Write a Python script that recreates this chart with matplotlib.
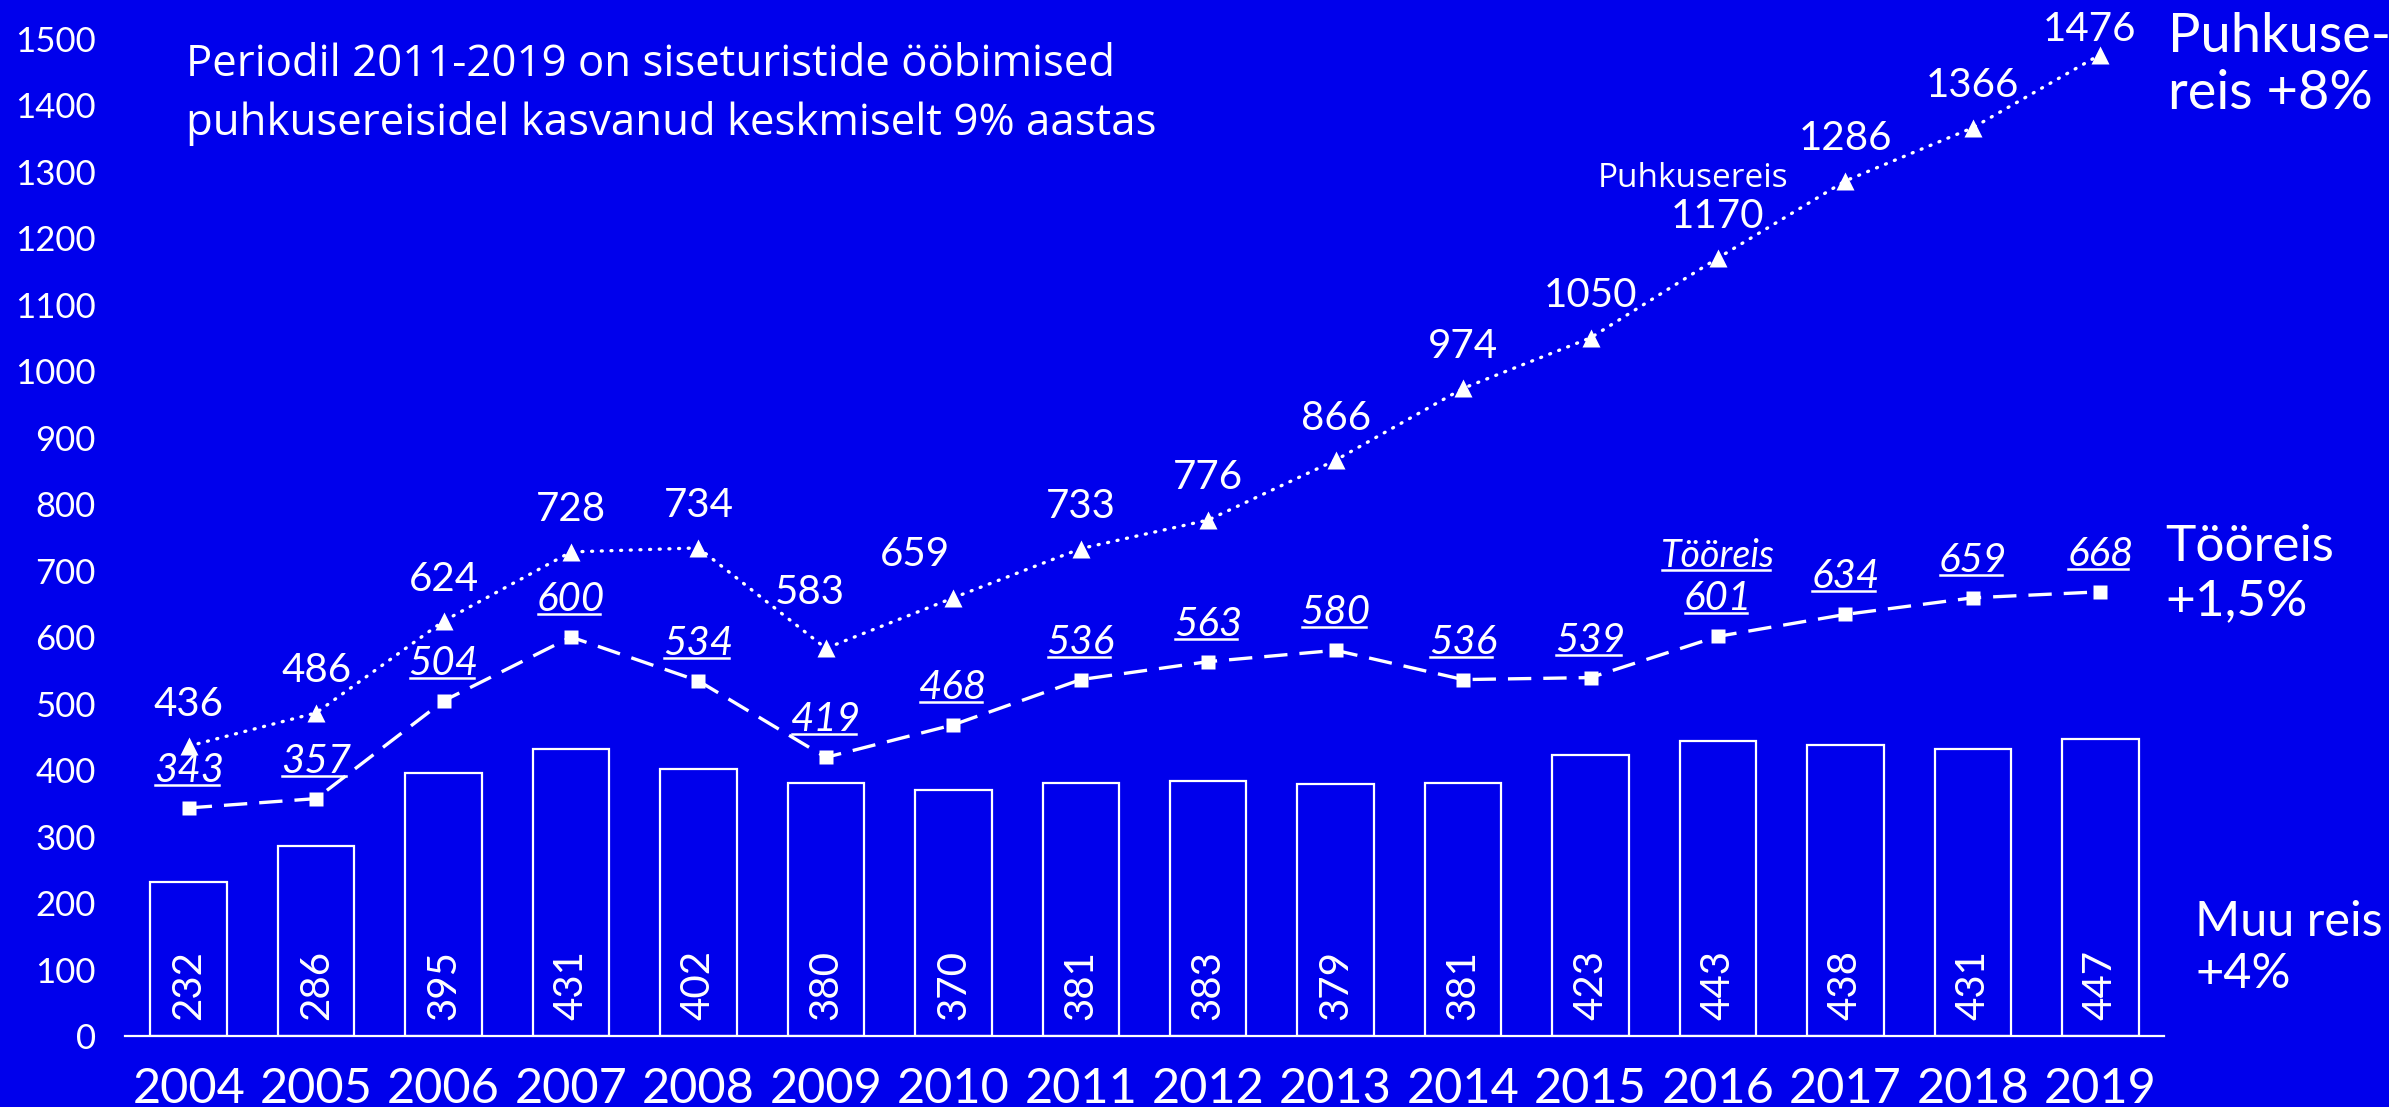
import matplotlib.pyplot as plt
from matplotlib.lines import Line2D

W, H = 2389, 1107
BG = '#0000EC'

years = [str(y) for y in range(2004, 2020)]
puhkusereis = [436, 486, 624, 728, 734, 583, 659, 733, 776, 866, 974, 1050, 1170, 1286, 1366, 1476]
tooreis = [343, 357, 504, 600, 534, 419, 468, 536, 563, 580, 536, 539, 601, 634, 659, 668]
muu_reis = [232, 286, 395, 431, 402, 380, 370, 381, 383, 379, 381, 423, 443, 438, 431, 447]

plt.rcParams['font.family'] = ['Lato', 'DejaVu Sans']

fig = plt.figure(figsize=(W / 100, H / 100), dpi=100, facecolor=BG)
ax = fig.add_axes([125 / W, (H - 1036) / H, (2164 - 125) / W, 1036 / H])
ax.set_facecolor(BG)

x = list(range(len(years)))

# bars (other trips)
ax.bar(x, muu_reis, width=0.6, color=BG, edgecolor='white', linewidth=1.6, zorder=2)
for i, v in enumerate(muu_reis):
    ax.annotate(str(v), (i, 0), xytext=(0, 51), textcoords='offset pixels',
                ha='center', va='center', rotation=90, color='white', fontsize=29, zorder=3)

# work trips - dashed with squares
ax.plot(x, tooreis, color='white', lw=2.4, dashes=(7, 3.6), marker='s', ms=9.5,
        mec='none', zorder=4)
# holiday trips - dotted with triangles
ax.plot(x, puhkusereis, color='white', lw=2.4, dashes=(0.3, 2.6), dash_capstyle='round',
        marker='^', ms=12.5, mec='none', zorder=4)

ax.set_xlim(-0.5, 15.5)
ax.set_ylim(0, 1558)
ax.set_yticks(range(0, 1600, 100))
ax.set_xticks(x)
ax.set_xticklabels(years)
ax.tick_params(axis='y', length=0, pad=21, labelsize=25, colors='white')
ax.tick_params(axis='x', length=0, pad=22, labelsize=35, colors='white')
for s in ['top', 'right', 'left']:
    ax.spines[s].set_visible(False)
ax.spines['bottom'].set_color('white')
ax.spines['bottom'].set_linewidth(1.6)

# holiday labels (regular)
p_off = {5: (-16, 56), 6: (-38, 43), 15: (-11, 25)}
for i, v in enumerate(puhkusereis):
    dx, dy = p_off.get(i, (0, 42))
    ax.annotate(str(v), (i, v), xytext=(dx, dy), textcoords='offset pixels',
                ha='center', va='center', color='white', fontsize=29, zorder=5)
ax.annotate('Puhkusereis', (12, puhkusereis[12]), xytext=(-25, 80), textcoords='offset pixels',
            ha='center', va='center', color='white', fontsize=24,
            family=['Open Sans', 'DejaVu Sans'], zorder=5)

# work trip labels (italic, underlined)
under = []
for i, v in enumerate(tooreis):
    t = ax.annotate(str(v), (i, v), xytext=(0, 26), textcoords='offset pixels',
                    ha='center', va='baseline', color='white', fontsize=29,
                    style='italic', zorder=5)
    under.append(t)
t = ax.annotate('Tööreis', (12, tooreis[12]), xytext=(0, 69), textcoords='offset pixels',
                ha='center', va='baseline', color='white', fontsize=27,
                style='italic', zorder=5)
under.append(t)

fig.text(186 / W, 1 - 94 / H, 'Periodil 2011-2019 on siseturistide ööbimised\npuhkusereisidel kasvanud keskmiselt 9% aastas',
         ha='left', va='center', color='white', fontsize=31.5, linespacing=1.4,
         family=['Open Sans', 'DejaVu Sans'])

fig.text(2168 / W, 1 - 65 / H, 'Puhkuse-\nreis +8%', ha='left', va='center',
         color='white', fontsize=39, linespacing=1.2)
fig.text(2165 / W, 1 - 574 / H, 'Tööreis\n+1,5%', ha='left', va='center',
         color='white', fontsize=37, linespacing=1.2)
fig.text(2195 / W, 1 - 948 / H, 'Muu reis\n+4%', ha='left', va='center',
         color='white', fontsize=35, linespacing=1.25)

# underline the italic labels
fig.canvas.draw()
r = fig.canvas.get_renderer()
inv = fig.transFigure.inverted()
for t in under:
    bb = t.get_window_extent(r)
    ypix = ax.transData.transform(t.xy)[1] + t.xyann[1] - 3
    p0 = inv.transform((bb.x0 + 1, ypix))
    p1 = inv.transform((bb.x1 - 5, ypix))
    fig.add_artist(Line2D([p0[0], p1[0]], [p0[1], p1[1]], color='white', lw=1.8))

fig.savefig('out.png', dpi=100, facecolor=BG)
